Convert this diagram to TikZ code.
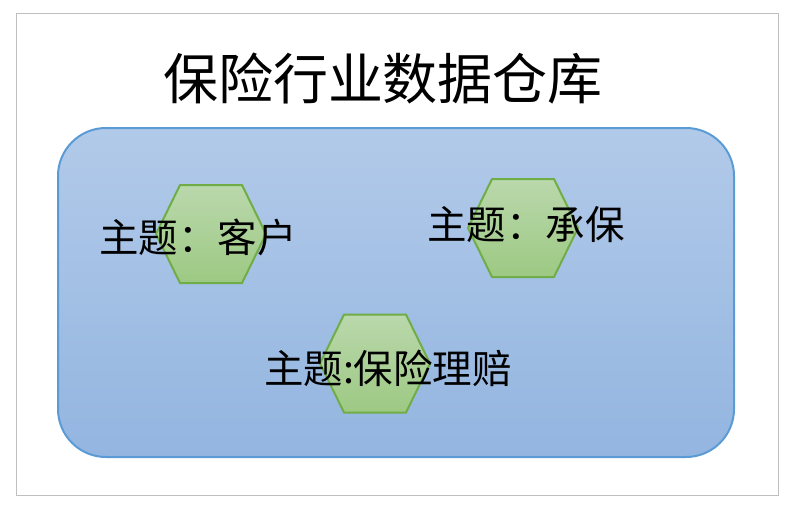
\documentclass[tikz,border=0pt]{standalone}
\usepackage{fontspec}
\newfontfamily\cjk{Noto Sans CJK SC}
\definecolor{frameGray}{HTML}{BFBFBF}
\definecolor{boxTop}{HTML}{B2CAE9}
\definecolor{boxBot}{HTML}{93B5E0}
\definecolor{boxLine}{HTML}{5B9BD5}
\definecolor{hexTop}{HTML}{BAD8AC}
\definecolor{hexBot}{HTML}{9DC983}
\definecolor{hexLine}{HTML}{70AD47}
\tikzset{
  framebox/.style={draw=frameGray, line width=0.8pt},
  dwbox/.style={draw=boxLine, line width=2pt, rounded corners=48pt, top color=boxTop, bottom color=boxBot},
  hexbox/.style={draw=hexLine, line width=2pt, top color=hexTop, bottom color=hexBot},
  titletext/.style={font=\cjk\fontsize{55}{60}\selectfont, text=black, inner sep=0pt},
  labeltext/.style={font=\cjk\fontsize{39.5}{44}\selectfont, text=black, inner sep=0pt},
  hexa/.pic={\path[hexbox] (-55,0)--(-31,49)--(31,49)--(55,0)--(31,-49)--(-31,-49)--cycle;}
}
\begin{document}
\begin{tikzpicture}[x=1pt,y=-1pt]
\useasboundingbox (0,0) rectangle (788,509);
\draw[framebox] (16.5,13.5) rectangle (778.5,495.5);
\node[titletext] (title) at (383,79) {保险行业数据仓库};
\path[dwbox] (58,128) rectangle (734,457);
\pic (h1) at (211,234) {hexa};
\pic (h2) at (523,228) {hexa};
\pic (h3) at (375,363.5) {hexa};
\node[labeltext] (t1) at (198,237) {主题：客户};
\node[labeltext] (t2) at (526,225) {主题：承保};
\node[labeltext] (t3) at (388,368) {主题:保险理赔};
\end{tikzpicture}
\end{document}
